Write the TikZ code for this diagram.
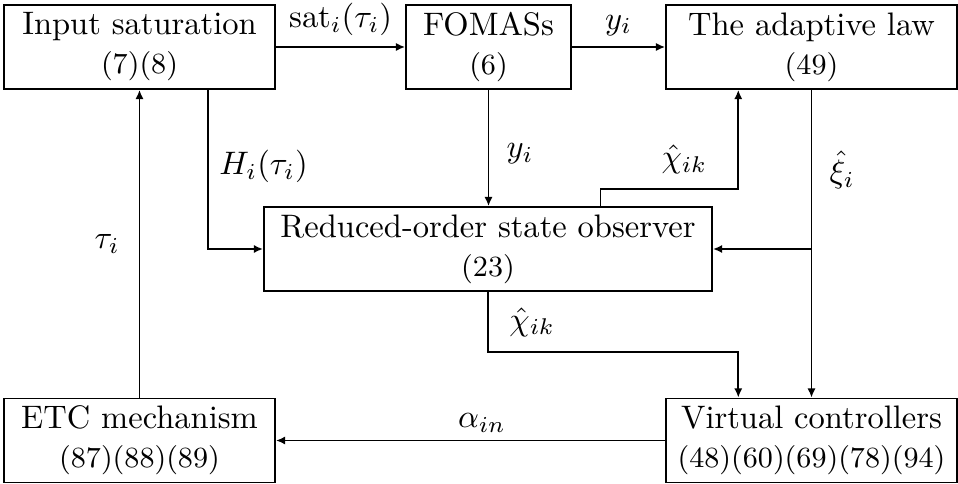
\documentclass[tikz,border=0pt]{standalone}
\usepackage{amsmath,amssymb}
\usetikzlibrary{arrows.meta,calc,positioning}

\tikzset{
	blk/.style={draw, line width=0.6pt, align=center, minimum height=25.8pt, inner sep=1pt},
	arr/.style={-{Latex[length=2.8pt,width=2.5pt]}, line width=0.5pt},
}

\begin{document}
\begin{tikzpicture}[x=0.3073pt, y=0.3073pt]
	\useasboundingbox (0,0) rectangle (958,483);
	% blocks
	\node[blk, minimum width=83.3pt] (insat) at (139.5,436) {Input saturation\\\small (7)(8)};
	\node[blk, minimum width=50.7pt] (fomas) at (488.5,436) {FOMASs\\\small (6)};
	\node[blk, minimum width=89.4pt] (adapt) at (811.5,436) {The adaptive law\\\small (49)};
	\node[blk, minimum width=137.7pt] (obs) at (488,234) {Reduced-order state observer\\\small (23)};
	\node[blk, minimum width=83.3pt] (etc) at (139.5,42.5) {ETC mechanism\\\small (87)(88)(89)};
	\node[blk, minimum width=89.4pt] (vc) at (811.5,42.5) {Virtual controllers\\\small (48)(60)(69)(78)(94)};
	\coordinate (hs) at ($(insat.south)!0.5!(insat.south east)$);
	\coordinate (c1) at ($(obs.north)!0.5!(obs.north east)$);
	\coordinate (c2) at ($(adapt.south)!0.5!(adapt.south west)$);
	\coordinate (c3) at ($(vc.north)!0.5!(vc.north west)$);
	\coordinate (br) at (adapt.south |- obs.east);
	% signals
	\draw[arr] (insat.east) -- node[above] {$\mathrm{sat}_i(\tau_i)$} (fomas.west);
	\draw[arr] (fomas.east) -- node[above] {$y_i$} (adapt.west);
	\draw[arr] (fomas.south) -- node[pos=0.55, right=2pt] {$y_i$} (obs.north -| fomas.south);
	\draw[arr] (hs) |- node[pos=0.24, right=0pt] {$H_i(\tau_i)$} (obs.west);
	\draw[arr] (etc.north) -- node[left=2.5pt] {$\tau_i$} (insat.south);
	\draw[arr] (c1) -- ++(0,17) -| node[pos=0.65, left=6pt] {$\hat{\chi}_{ik}$} (c2);
	\draw[arr] (adapt.south) -- node[pos=0.26, right=2pt] {$\hat{\xi}_i$} (vc.north);
	\draw[arr] (br) -- (obs.east);
	\draw[arr] (obs.south) -- ++(0,-60) node[midway, right=3pt] {$\hat{\chi}_{ik}$} -| (c3);
	\draw[arr] (vc.west) -- node[above=-1pt, xshift=3.5pt] {$\alpha_{in}$} (etc.east);
\end{tikzpicture}
\end{document}
